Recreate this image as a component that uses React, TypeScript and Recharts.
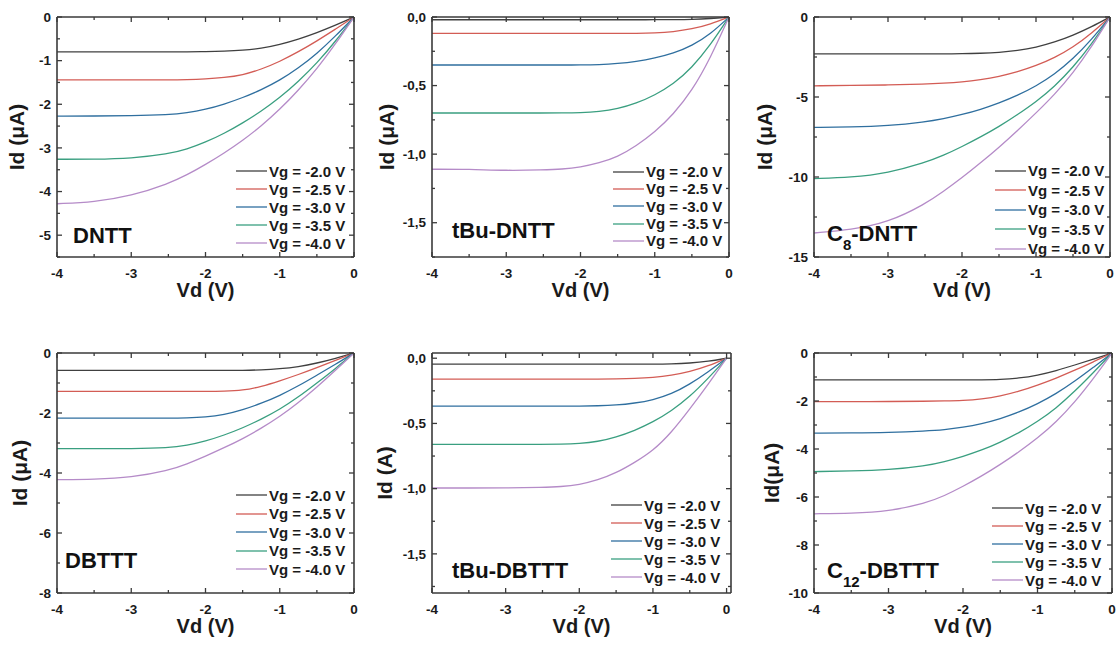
import React from "react";
import { LineChart, Line, XAxis, YAxis, Legend } from "recharts";

// drain voltage sample points shared by all panels
const vd = [-4, -3.5, -3, -2.5, -2.25, -2, -1.75, -1.5, -1.25, -1, -0.75, -0.5, -0.25, 0];

const vgLabels = ["Vg = -2.0 V", "Vg = -2.5 V", "Vg = -3.0 V", "Vg = -3.5 V", "Vg = -4.0 V"];
const vgKeys = ["g20", "g25", "g30", "g35", "g40"];
const lineColors = ["#404040", "#d35c55", "#2f6f9f", "#3a9f80", "#b58bc8"];

const xTicks = [-4, -3.5, -3, -2.5, -2, -1.5, -1, -0.5, 0];
const xMajor = [-4, -3, -2, -1, 0];

// Id curves, one row per Vg
const dntt = [
  [-0.8, -0.8, -0.8, -0.8, -0.8, -0.795, -0.785, -0.765, -0.72, -0.63, -0.51, -0.36, -0.19, 0],
  [-1.44, -1.44, -1.44, -1.44, -1.435, -1.42, -1.39, -1.33, -1.2, -1.02, -0.8, -0.55, -0.28, 0],
  [-2.27, -2.27, -2.265, -2.24, -2.2, -2.12, -2.0, -1.85, -1.67, -1.45, -1.17, -0.84, -0.44, 0],
  [-3.26, -3.26, -3.24, -3.14, -3.03, -2.87, -2.67, -2.43, -2.16, -1.85, -1.48, -1.06, -0.56, 0],
  [-4.28, -4.24, -4.1, -3.82, -3.62, -3.38, -3.12, -2.83, -2.5, -2.12, -1.68, -1.19, -0.62, 0],
];
const tbuDntt = [
  [-0.02, -0.02, -0.02, -0.02, -0.02, -0.02, -0.02, -0.02, -0.02, -0.02, -0.019, -0.018, -0.012, 0],
  [-0.12, -0.12, -0.12, -0.12, -0.12, -0.12, -0.12, -0.12, -0.12, -0.117, -0.108, -0.088, -0.052, 0],
  [-0.35, -0.35, -0.35, -0.35, -0.35, -0.35, -0.348, -0.34, -0.325, -0.3, -0.265, -0.21, -0.125, 0],
  [-0.7, -0.7, -0.7, -0.7, -0.7, -0.698, -0.69, -0.67, -0.63, -0.57, -0.49, -0.37, -0.205, 0],
  [-1.11, -1.11, -1.12, -1.115, -1.11, -1.095, -1.065, -1.02, -0.94, -0.84, -0.71, -0.54, -0.3, 0],
];
const c8Dntt = [
  [-2.3, -2.3, -2.3, -2.3, -2.3, -2.3, -2.27, -2.22, -2.1, -1.9, -1.58, -1.15, -0.62, 0],
  [-4.3, -4.28, -4.25, -4.2, -4.14, -4.06, -3.92, -3.72, -3.43, -3.05, -2.55, -1.9, -1.02, 0],
  [-6.9, -6.88, -6.8, -6.56, -6.36, -6.1, -5.78, -5.38, -4.9, -4.32, -3.58, -2.62, -1.42, 0],
  [-10.1, -10.03, -9.75, -9.1, -8.65, -8.1, -7.5, -6.85, -6.1, -5.3, -4.35, -3.15, -1.7, 0],
  [-13.5, -13.3, -12.85, -11.7, -10.9, -10.05, -9.12, -8.15, -7.1, -6.0, -4.85, -3.5, -1.88, 0],
];
const dbttt = [
  [-0.58, -0.58, -0.58, -0.58, -0.58, -0.58, -0.58, -0.578, -0.565, -0.53, -0.46, -0.34, -0.18, 0],
  [-1.28, -1.28, -1.28, -1.28, -1.28, -1.28, -1.275, -1.25, -1.12, -0.93, -0.72, -0.49, -0.25, 0],
  [-2.17, -2.17, -2.17, -2.17, -2.165, -2.14, -2.06, -1.9, -1.68, -1.42, -1.1, -0.74, -0.38, 0],
  [-3.19, -3.19, -3.19, -3.16, -3.08, -2.94, -2.74, -2.5, -2.21, -1.88, -1.47, -1.0, -0.52, 0],
  [-4.22, -4.21, -4.15, -3.92, -3.7, -3.44, -3.16, -2.86, -2.51, -2.12, -1.66, -1.14, -0.58, 0],
];
const tbuDbttt = [
  [-0.046, -0.046, -0.046, -0.046, -0.046, -0.046, -0.046, -0.046, -0.046, -0.046, -0.044, -0.038, -0.024, 0],
  [-0.16, -0.16, -0.16, -0.16, -0.16, -0.16, -0.16, -0.158, -0.155, -0.148, -0.132, -0.104, -0.06, 0],
  [-0.367, -0.367, -0.367, -0.367, -0.367, -0.367, -0.365, -0.36, -0.345, -0.32, -0.275, -0.2, -0.105, 0],
  [-0.66, -0.66, -0.66, -0.66, -0.66, -0.655, -0.64, -0.605, -0.555, -0.49, -0.405, -0.295, -0.155, 0],
  [-0.995, -0.995, -0.995, -0.99, -0.985, -0.97, -0.935, -0.88, -0.8, -0.71, -0.57, -0.39, -0.2, 0],
];
const c12Dbttt = [
  [-1.12, -1.12, -1.12, -1.12, -1.12, -1.12, -1.12, -1.11, -1.05, -0.93, -0.74, -0.5, -0.26, 0],
  [-2.03, -2.03, -2.02, -2.01, -2.0, -1.98, -1.92, -1.8, -1.6, -1.34, -1.05, -0.72, -0.37, 0],
  [-3.34, -3.33, -3.31, -3.25, -3.2, -3.1, -2.95, -2.74, -2.47, -2.12, -1.7, -1.18, -0.6, 0],
  [-4.94, -4.92, -4.87, -4.7, -4.53, -4.31, -4.05, -3.72, -3.33, -2.86, -2.3, -1.6, -0.82, 0],
  [-6.7, -6.68, -6.6, -6.26, -5.95, -5.56, -5.13, -4.65, -4.12, -3.55, -2.88, -2.05, -1.07, 0],
];

// y ticks (major ones get labels)
const yTicksDntt = [0, -0.5, -1, -1.5, -2, -2.5, -3, -3.5, -4, -4.5, -5, -5.5];
const yMajorDntt = [0, -1, -2, -3, -4, -5];
const yTicksSmall = [0, -0.25, -0.5, -0.75, -1, -1.25, -1.5, -1.75];
const yMajorSmall = [0, -0.5, -1, -1.5];
const yTicksC8 = [0, -2.5, -5, -7.5, -10, -12.5, -15];
const yMajorC8 = [0, -5, -10, -15];
const yTicksDbttt = [0, -1, -2, -3, -4, -5, -6, -7, -8];
const yMajorDbttt = [0, -2, -4, -6, -8];
const yTicksC12 = [0, -1, -2, -3, -4, -5, -6, -7, -8, -9, -10];
const yMajorC12 = [0, -2, -4, -6, -8, -10];

const AXIS = "#3a3a3a";
const FONT = "'Liberation Sans', Arial, sans-serif";

type Panel = {
  name: React.ReactNode;
  series: number[][];
  yDomain: [number, number];
  xMax: number;
  yTicks: number[];
  yMajor: number[];
  comma: boolean;
  yLabel: string;
  box: [number, number, number, number];
  yLabelX: number;
  legend: [number, number, number];
  nameAt: [number, number];
};

const panels: Panel[] = [
  { name: "DNTT", series: dntt, yDomain: [-5.5, 0], xMax: 0, yTicks: yTicksDntt, yMajor: yMajorDntt, comma: false, yLabel: "Id (μA)", box: [57, 17, 354, 257], yLabelX: 20, legend: [239, 155, 18], nameAt: [73, 235] },
  { name: "tBu-DNTT", series: tbuDntt, yDomain: [-1.75, 0], xMax: 0, yTicks: yTicksSmall, yMajor: yMajorSmall, comma: true, yLabel: "Id (μA)", box: [432, 17, 729, 257], yLabelX: 15, legend: [241, 156, 17.3], nameAt: [452, 230] },
  { name: <>C<tspan baselineShift="sub" fontSize={15}>8</tspan>-DNTT</>, series: c8Dntt, yDomain: [-15, 0], xMax: 0, yTicks: yTicksC8, yMajor: yMajorC8, comma: false, yLabel: "Id (μA)", box: [814, 17, 1110, 257], yLabelX: 11, legend: [241, 154, 19.5], nameAt: [827, 233] },
  { name: "DBTTT", series: dbttt, yDomain: [-8, 0], xMax: 0, yTicks: yTicksDbttt, yMajor: yMajorDbttt, comma: false, yLabel: "Id (μA)", box: [57, 353, 354, 593], yLabelX: 23, legend: [239, 143, 18.5], nameAt: [65, 560] },
  { name: "tBu-DBTTT", series: tbuDbttt, yDomain: [-1.8, 0.04], xMax: 0.06, yTicks: yTicksSmall, yMajor: yMajorSmall, comma: true, yLabel: "Id (A)", box: [432, 353, 731, 593], yLabelX: 13, legend: [239, 153, 18], nameAt: [452, 570] },
  { name: <>C<tspan baselineShift="sub" fontSize={15}>12</tspan>-DBTTT</>, series: c12Dbttt, yDomain: [-10, 0], xMax: 0, yTicks: yTicksC12, yMajor: yMajorC12, comma: false, yLabel: "Id(μA)", box: [814, 353, 1112, 593], yLabelX: 18, legend: [238, 156, 18], nameAt: [827, 570] },
];

const isMajor = (list: number[], v: number) => list.some((m) => Math.abs(m - v) < 1e-9);

function makeTick(side: "bottom" | "top" | "left" | "right", majors: number[], fmt?: (v: number) => string) {
  return (props: any) => {
    const { x, y, payload } = props;
    const v = payload.value;
    const major = isMajor(majors, v);
    const len = major ? 5 : 3;
    const ls = { stroke: AXIS, strokeWidth: 1.3 };
    let line;
    if (side === "bottom") line = <line x1={x} y1={y} x2={x} y2={y - len} {...ls} />;
    else if (side === "top") line = <line x1={x} y1={y} x2={x} y2={y + len} {...ls} />;
    else if (side === "left") line = <line x1={x} y1={y} x2={x + len} y2={y} {...ls} />;
    else line = <line x1={x} y1={y} x2={x - len} y2={y} {...ls} />;
    let label = null;
    if (major && fmt && side === "bottom")
      label = (
        <text x={x} y={y + 21} textAnchor="middle" fill="#1a1a1a" fontSize={13.5} fontWeight="bold" fontFamily={FONT}>
          {fmt(v)}
        </text>
      );
    if (major && fmt && side === "left")
      label = (
        <text x={x - 6} y={y + 4.7} textAnchor="end" fill="#1a1a1a" fontSize={13.5} fontWeight="bold" fontFamily={FONT}>
          {fmt(v)}
        </text>
      );
    return (
      <g>
        {line}
        {label}
      </g>
    );
  };
}

function PanelChart({ p }: { p: Panel }) {
  const [x0, y0, x1, y1] = p.box;
  const left = x0 - 60;
  const top = y0 - 10;
  const width = x1 - x0 + 70;
  const height = y1 - y0 + 60;
  const rows = vd.map((v, i) => {
    const r: Record<string, number> = { vd: v };
    vgKeys.forEach((k, j) => (r[k] = p.series[j][i]));
    return r;
  });
  const fmtY = (v: number) => (p.comma ? v.toFixed(1).replace(".", ",") : String(v));
  const fmtX = (v: number) => String(v);
  const [lx, ly, lh] = p.legend;
  const axisLine = { stroke: AXIS, strokeWidth: 1.6 };

  return (
    <div style={{ position: "absolute", left, top, width, height }}>
      <LineChart width={width} height={height} data={rows} margin={{ top: 9, right: 9, left: 0, bottom: 0 }}>
        <XAxis
          dataKey="vd"
          type="number"
          domain={[-4, p.xMax]}
          allowDataOverflow
          ticks={xTicks}
          interval={0}
          tickSize={0}
          tickMargin={0}
          tickLine={false}
          tick={makeTick("bottom", xMajor, fmtX)}
          stroke={AXIS}
          axisLine={axisLine}
          height={50}
          label={{ value: "Vd (V)", position: "insideBottom", offset: 10, fill: "#1a1a1a", fontSize: 20, fontWeight: "bold", fontFamily: FONT }}
        />
        <XAxis
          xAxisId="top"
          dataKey="vd"
          orientation="top"
          type="number"
          domain={[-4, p.xMax]}
          allowDataOverflow
          ticks={xTicks}
          interval={0}
          tickSize={0}
          tickMargin={0}
          tickLine={false}
          tick={makeTick("top", xMajor)}
          stroke={AXIS}
          axisLine={axisLine}
          height={1}
        />
        <YAxis
          type="number"
          domain={p.yDomain}
          allowDataOverflow
          ticks={p.yTicks}
          interval={0}
          tickSize={0}
          tickMargin={0}
          tickLine={false}
          tick={makeTick("left", p.yMajor, fmtY)}
          stroke={AXIS}
          axisLine={axisLine}
          width={60}
          label={{ value: p.yLabel, angle: -90, position: "insideLeft", offset: p.yLabelX, fill: "#1a1a1a", fontSize: 21, fontWeight: "bold", fontFamily: FONT, style: { textAnchor: "middle" } }}
        />
        <YAxis
          yAxisId="right"
          orientation="right"
          type="number"
          domain={p.yDomain}
          allowDataOverflow
          ticks={p.yTicks}
          interval={0}
          tickSize={0}
          tickMargin={0}
          tickLine={false}
          tick={makeTick("right", p.yMajor)}
          stroke={AXIS}
          axisLine={axisLine}
          width={1}
        />
        {/* invisible series so the mirrored top/right axes get a domain */}
        <Line
          xAxisId="top"
          yAxisId="right"
          dataKey="g20"
          stroke="none"
          dot={false}
          legendType="none"
          activeDot={false}
          isAnimationActive={false}
        />
        {vgKeys.map((k, j) => (
          <Line
            key={k}
            dataKey={k}
            name={vgLabels[j]}
            type="basis"
            stroke={lineColors[j]}
            strokeWidth={1.3}
            dot={false}
            isAnimationActive={false}
          />
        ))}
        <Legend
          layout="vertical"
          align="center"
          verticalAlign="middle"
          wrapperStyle={{ left: lx, top: ly, right: "auto", bottom: "auto", width: "auto", height: "auto" }}
          content={(props: any) => (
            <div style={{ fontFamily: FONT }}>
              {(props.payload || [])
                .filter((e: any) => vgLabels.includes(e.value))
                .map((e: any, i: number) => (
                  <div key={i} style={{ display: "flex", alignItems: "center", height: lh }}>
                    <svg width={33} height={6} style={{ display: "block" }}>
                      <line x1={0} y1={3} x2={31} y2={3} stroke={e.color} strokeWidth={1.3} />
                    </svg>
                    <span style={{ fontSize: 15, fontWeight: "bold", color: "#1a1a1a", whiteSpace: "nowrap" }}>{e.value}</span>
                  </div>
                ))}
            </div>
          )}
        />
      </LineChart>
      <svg style={{ position: "absolute", left: 0, top: 0, pointerEvents: "none" }} width={width} height={height}>
        <text x={p.nameAt[0] - left} y={p.nameAt[1] - top + 8} fontSize={22} fontWeight="bold" fontFamily={FONT} fill="#111">
          {p.name}
        </text>
      </svg>
    </div>
  );
}

export default function App() {
  return (
    <div style={{ position: "absolute", left: 0, top: 0, width: 1120, height: 651, background: "#fff", overflow: "hidden" }}>
      {panels.map((p, i) => (
        <PanelChart key={i} p={p} />
      ))}
    </div>
  );
}
